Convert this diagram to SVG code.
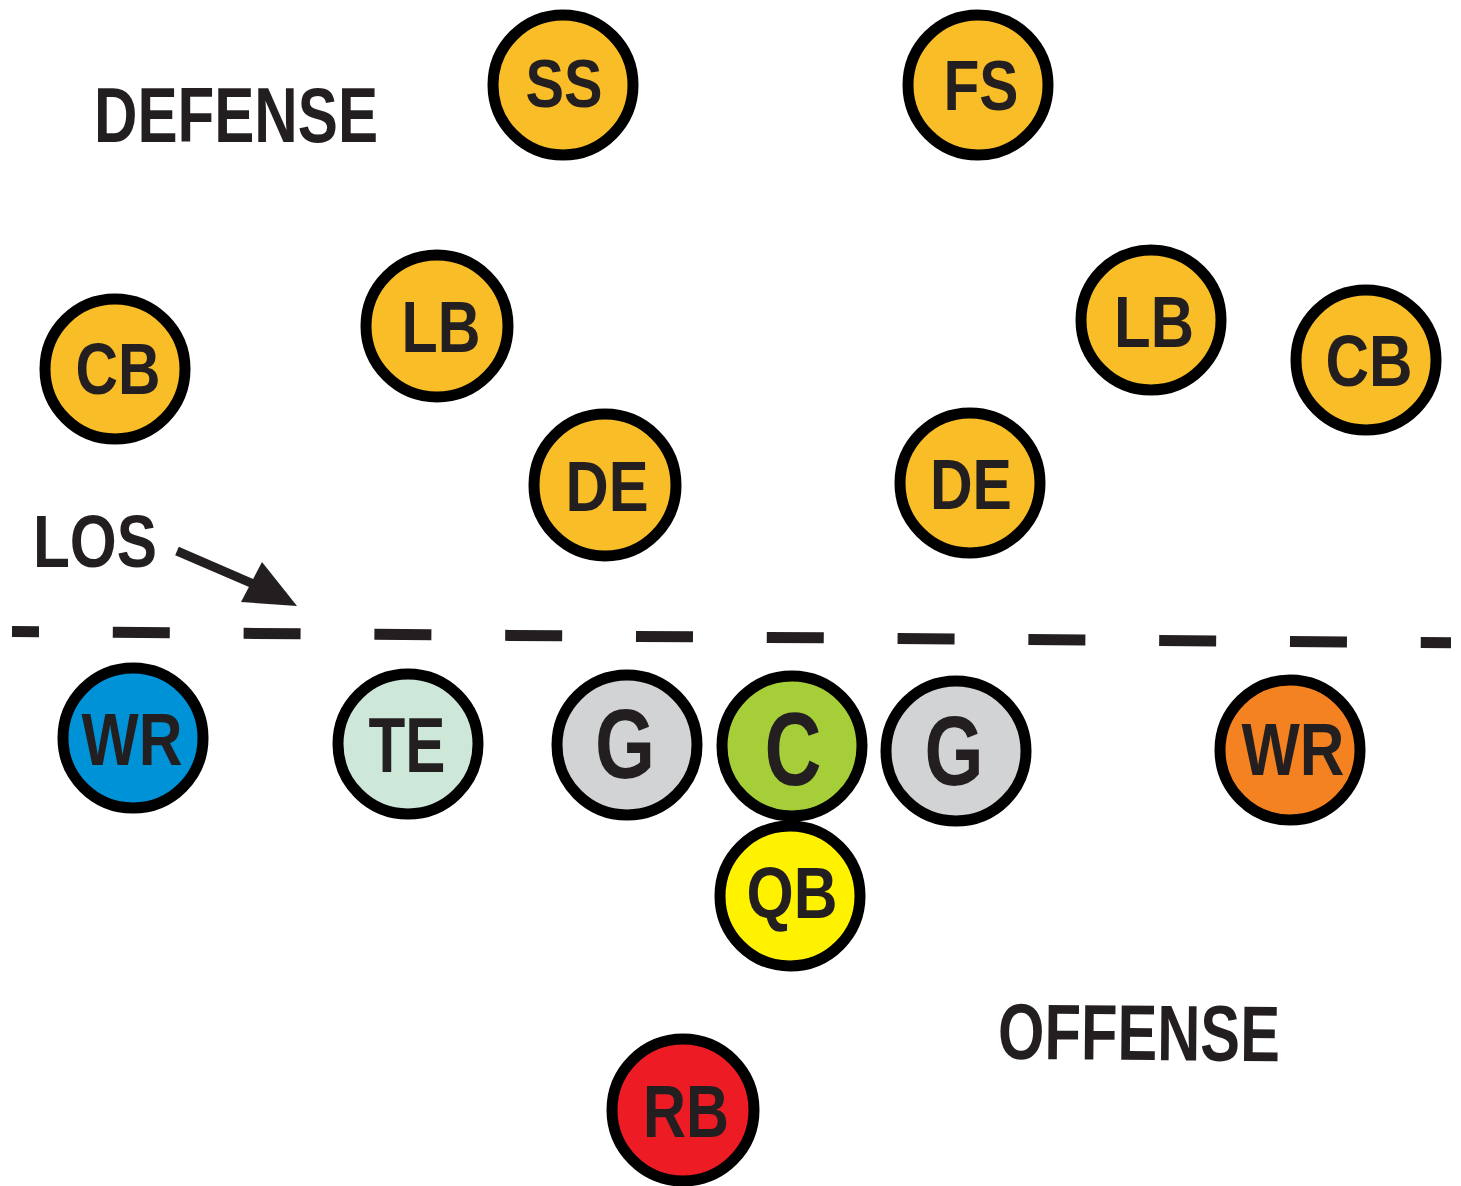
<svg xmlns="http://www.w3.org/2000/svg" width="1461" height="1186" viewBox="0 0 1461 1186">
<defs>
<style>
.p{stroke:#000;stroke-width:11}
.t{font-family:"Liberation Sans Narrow","Liberation Sans","Arial Narrow",sans-serif;font-weight:bold;fill:#231F20;text-anchor:middle}
.def{fill:#F9BE27}
</style>
</defs>
<rect width="1461" height="1186" fill="#fff"/>
<g id="labels">
<text id="defense" class="t" x="236" y="142" font-size="77" textLength="284" lengthAdjust="spacingAndGlyphs">DEFENSE</text>
<text id="offense" class="t" x="1139" y="1060" font-size="79" textLength="282" lengthAdjust="spacingAndGlyphs" transform="rotate(0.5 1139 1035)">OFFENSE</text>
<text id="los" class="t" x="95" y="567" font-size="75" textLength="124" lengthAdjust="spacingAndGlyphs">LOS</text>
</g>
<g id="connectors">
<line x1="12" y1="631.5" x2="1451" y2="642.8" stroke="#231F20" stroke-width="11" stroke-dasharray="57 73.8" stroke-dashoffset="30"/>
<line x1="177" y1="551" x2="258" y2="586" stroke="#231F20" stroke-width="9"/>
<polygon points="262,562 297,606 241,602" fill="#231F20"/>
</g>
<g id="SS"><circle class="p def" cx="563" cy="85" r="70"/><text class="t" x="564" y="107" font-size="68" textLength="77" lengthAdjust="spacingAndGlyphs">SS</text></g>
<g id="FS"><circle class="p def" cx="978" cy="85" r="70"/><text class="t" x="981" y="110" font-size="70" textLength="75" lengthAdjust="spacingAndGlyphs">FS</text></g>
<g id="CB-left"><circle class="p def" cx="115" cy="369" r="70"/><text class="t" x="118" y="394" font-size="72" textLength="85" lengthAdjust="spacingAndGlyphs">CB</text></g>
<g id="LB-left"><circle class="p def" cx="437" cy="326" r="71"/><text class="t" x="441" y="352" font-size="72" textLength="79" lengthAdjust="spacingAndGlyphs">LB</text></g>
<g id="LB-right"><circle class="p def" cx="1151" cy="320" r="70"/><text class="t" x="1154" y="347" font-size="72" textLength="80" lengthAdjust="spacingAndGlyphs">LB</text></g>
<g id="CB-right"><circle class="p def" cx="1366" cy="360" r="70"/><text class="t" x="1369" y="386" font-size="72" textLength="87" lengthAdjust="spacingAndGlyphs">CB</text></g>
<g id="DE-left"><circle class="p def" cx="605" cy="485" r="71"/><text class="t" x="607" y="511" font-size="71" textLength="83" lengthAdjust="spacingAndGlyphs">DE</text></g>
<g id="DE-right"><circle class="p def" cx="970" cy="483" r="70"/><text class="t" x="971" y="509" font-size="71" textLength="82" lengthAdjust="spacingAndGlyphs">DE</text></g>
<g id="WR-left"><circle class="p" fill="#0092D7" cx="133" cy="738" r="70"/><text class="t" x="132" y="765" font-size="74" textLength="101" lengthAdjust="spacingAndGlyphs">WR</text></g>
<g id="TE"><circle class="p" fill="#CDE8D8" cx="408" cy="744" r="70"/><text class="t" x="407" y="772" font-size="77" textLength="77" lengthAdjust="spacingAndGlyphs">TE</text></g>
<g id="G-left"><circle class="p" fill="#D1D3D4" cx="627" cy="745" r="70"/><text class="t" x="625" y="778" font-size="98" textLength="60" lengthAdjust="spacingAndGlyphs">G</text></g>
<g id="C"><circle class="p" fill="#A6CE39" cx="792" cy="746" r="70"/><text class="t" x="793" y="785" font-size="104" textLength="57" lengthAdjust="spacingAndGlyphs">C</text></g>
<g id="G-right"><circle class="p" fill="#D1D3D4" cx="956" cy="751" r="70"/><text class="t" x="954" y="785" font-size="98" textLength="59" lengthAdjust="spacingAndGlyphs">G</text></g>
<g id="WR-right"><circle class="p" fill="#F58220" cx="1290" cy="750" r="70"/><text class="t" x="1293" y="775" font-size="74" textLength="103" lengthAdjust="spacingAndGlyphs">WR</text></g>
<g id="QB"><circle class="p" fill="#FFF200" cx="790" cy="896" r="70"/><text class="t" x="792" y="918" font-size="72" textLength="91" lengthAdjust="spacingAndGlyphs">QB</text></g>
<g id="RB"><circle class="p" fill="#ED1C24" cx="683" cy="1110" r="71"/><text class="t" x="686" y="1137" font-size="74" textLength="86" lengthAdjust="spacingAndGlyphs">RB</text></g>
</svg>
